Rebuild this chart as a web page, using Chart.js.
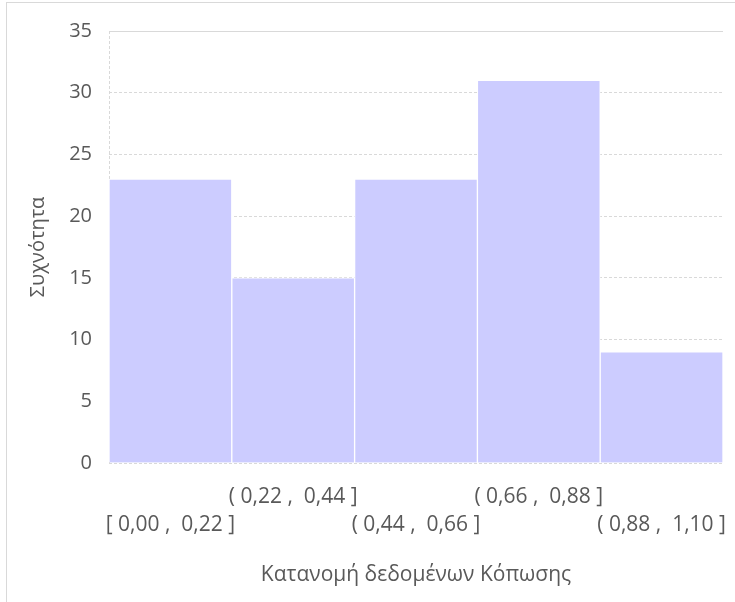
<!DOCTYPE html>
<html>
<head>
<meta charset="utf-8">
<script src="https://cdn.jsdelivr.net/npm/chart.js@4/dist/chart.umd.min.js"></script>
<style>
  html, body { margin: 0; padding: 0; background: #fff; }
  #wrap { position: relative; width: 735px; height: 602px; overflow: hidden; }
  #frame { position: absolute; left: 6px; top: 2px; width: 800px; height: 700px;
           border-left: 1.5px solid #d9d9d9; border-top: 1.5px solid #d9d9d9; }
  canvas { position: absolute; left: 0; top: 0; }
</style>
</head>
<body>
<div id="wrap">
  <div id="frame"></div>
  <canvas id="c" width="735" height="602"></canvas>
</div>
<script>
// Histogram of fatigue data: class intervals and their frequencies
const binLabels = ['[ 0,00 ,  0,22 ]', '( 0,22 ,  0,44 ]', '( 0,44 ,  0,66 ]', '( 0,66 ,  0,88 ]', '( 0,88 ,  1,10 ]'];
const frequencies = [23, 15, 23, 31, 9];
const yTicks = [0, 5, 10, 15, 20, 25, 30, 35];

const textColor = '#595959';
const gridColor = '#d9d9d9';
const fontFamily = '"Open Sans", Lato, sans-serif';

// Dashed left axis line drawn along the plot area edge
const leftAxisLine = {
  id: 'leftAxisLine',
  beforeDatasetsDraw(chart) {
    const { ctx, chartArea } = chart;
    ctx.save();
    ctx.strokeStyle = gridColor;
    ctx.lineWidth = 1;
    ctx.setLineDash([3, 2]);
    ctx.beginPath();
    ctx.moveTo(chartArea.left + 0.5, chartArea.top);
    ctx.lineTo(chartArea.left + 0.5, chartArea.bottom);
    ctx.stroke();
    ctx.restore();
  }
};

new Chart(document.getElementById('c'), {
  type: 'bar',
  data: {
    labels: binLabels,
    datasets: [{
      data: frequencies,
      backgroundColor: '#ccccff',
      borderColor: '#ffffff',
      borderWidth: 1,
      borderSkipped: 'bottom',
      barPercentage: 1,
      categoryPercentage: 1
    }]
  },
  options: {
    responsive: false,
    animation: false,
    layout: { padding: { top: 31, right: 12, left: 0, bottom: 0 } },
    plugins: { legend: { display: false }, tooltip: { enabled: false } },
    scales: {
      x: {
        grid: { display: false, drawTicks: false },
        border: { display: false },
        ticks: {
          autoSkip: false,
          minRotation: 0,
          maxRotation: 0,
          padding: 20,
          color: textColor,
          font: { family: fontFamily, size: 21, lineHeight: 28 / 21 },
          // alternate labels between two rows
          callback(value, index) {
            const t = this.getLabelForValue(value);
            return index % 2 === 1 ? [t, ''] : ['', t];
          }
        },
        title: {
          display: true,
          text: 'Κατανομή δεδομένων Κόπωσης',
          color: textColor,
          font: { family: fontFamily, size: 21, lineHeight: 1.2 },
          padding: { top: 0, bottom: 14 }
        },
        afterFit(scale) {
          scale.height = 139;
          // let the outer labels overhang the plot edges
          scale.paddingLeft = 0;
          scale.paddingRight = 0;
        }
      },
      y: {
        min: 0,
        max: 35,
        afterBuildTicks(scale) { scale.ticks = yTicks.map(v => ({ value: v })); },
        grid: { color: gridColor, lineWidth: 1, drawTicks: false },
        border: {
          display: false,
          dash: ctx => (ctx.tick && ctx.tick.value === 35 ? [] : [3, 2])
        },
        ticks: {
          padding: 17,
          color: textColor,
          font: { family: fontFamily, size: 20 }
        },
        title: {
          display: true,
          text: 'Συχνότητα',
          color: textColor,
          font: { family: fontFamily, size: 20, lineHeight: 1.2 },
          padding: { top: 26, bottom: 0 }
        },
        afterFit(scale) { scale.width = 109; }
      }
    }
  },
  plugins: [leftAxisLine]
});
</script>
</body>
</html>
